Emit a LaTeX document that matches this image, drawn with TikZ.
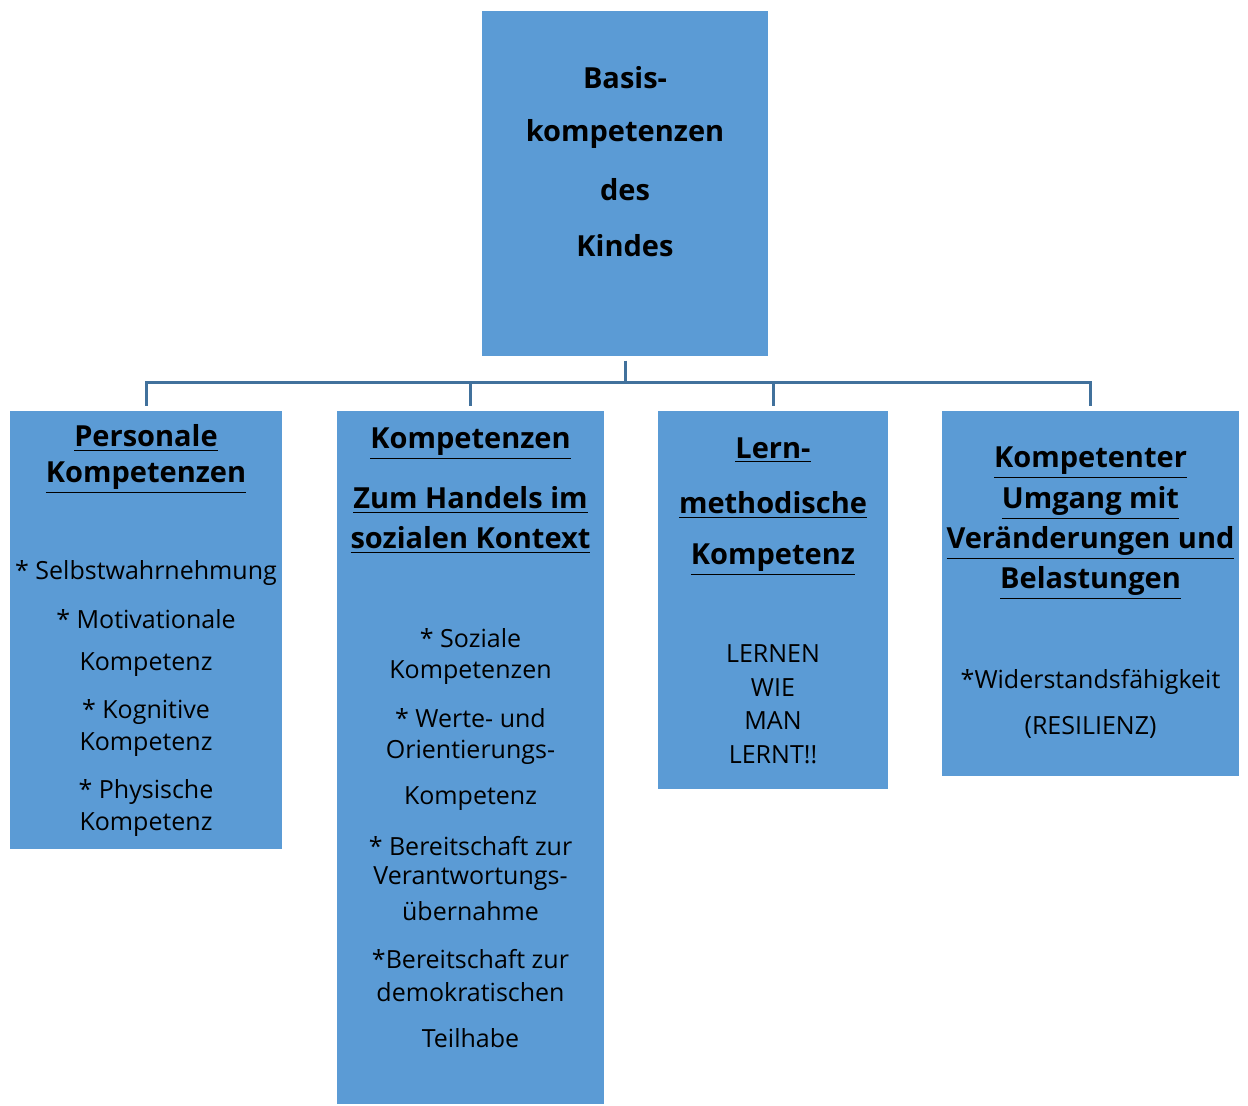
\documentclass[tikz,border=0pt]{standalone}
\usepackage{fontspec}
\setmainfont{Open Sans}
\usepackage{tikz}

\definecolor{boxblue}{HTML}{5B9BD5}
\definecolor{linkblue}{HTML}{41719C}

\begin{document}
\begin{tikzpicture}[x=0.5pt,y=-0.5pt,
	box/.style={draw=white,fill=boxblue,line width=0.6pt,inner sep=0pt},
	head/.style={font=\fontsize{14.5}{16}\selectfont\bfseries},
	item/.style={font=\fontsize{12.5}{14}\selectfont},
	link/.style={draw=linkblue,line width=1.5pt}]
	\useasboundingbox (0,0) rectangle (1248,1106);

	% Boxes start here
	\node (top) at (625,183.5) [box,minimum width=144pt,minimum height=173.5pt] {};
	\node (pers) at (146,630) [box,minimum width=137pt,minimum height=220pt] {};
	\node (sozi) at (470.5,757.5) [box,minimum width=134.5pt,minimum height=347.5pt] {};
	\node (lern) at (773,600) [box,minimum width=116pt,minimum height=190pt] {};
	\node (resi) at (1090.5,593.5) [box,minimum width=149.5pt,minimum height=183.5pt] {};

	% Lines start here
	\coordinate (bus) at (625,383);
	\draw[link,shorten <=1.5pt] (top.south) -- (bus);
	\draw[link,shorten >=1.5pt] (bus) -| (pers.north);
	\draw[link,shorten >=1.5pt] (bus) -| (sozi.north);
	\draw[link,shorten >=1.5pt] (bus) -| (lern.north);
	\draw[link,shorten >=1.5pt] (bus) -| (resi.north);

	% Texts start here
	\foreach \y/\t in {78/Basis-,134/kompetenzen,190/des,246/Kindes}
		\node (top-\y) at (625,\y) [head] {\t};

	\foreach \y/\t in {438/Personale,478/Kompetenzen}
		\node (pers-\y) at (146,\y) [head] {\underline{\t}};
	\foreach \y/\t in {573/{* Selbstwahrnehmung},619/{* Motivationale},665/Kompetenz,
		712/{* Kognitive},745/Kompetenz,792/{* Physische},825/Kompetenz}
		\node (pers-\y) at (146,\y) [item] {\t};

	\foreach \y/\t in {444/Kompetenzen,500/{Zum Handels im},540/{sozialen Kontext}}
		\node (sozi-\y) at (470.5,\y) [head] {\underline{\t}};
	\foreach \y/\t in {638/{* Soziale},673/Kompetenzen,718/{* Werte- und},752/Orientierungs-,
		799/Kompetenz,846/{* Bereitschaft zur},879/Verantwortungs-,911/übernahme,
		959/{*Bereitschaft zur},992/demokratischen,1038/Teilhabe}
		\node (sozi-\y) at (470.5,\y) [item] {\t};

	\foreach \y/\t in {450/Lern-,505/methodische,560/Kompetenz}
		\node (lern-\y) at (773,\y) [head] {\underline{\t}};
	\foreach \y/\t in {654/LERNEN,688/WIE,721/MAN,755/LERNT!!}
		\node (lern-\y) at (773,\y) [item] {\t};

	\foreach \y/\t in {463/Kompetenter,503/{Umgang mit},543/{Veränderungen und},583/Belastungen}
		\node (resi-\y) at (1090.5,\y) [head] {\underline{\t}};
	\foreach \y/\t in {682/*Widerstandsfähigkeit,727/(RESILIENZ)}
		\node (resi-\y) at (1090.5,\y) [item] {\t};

\end{tikzpicture}
\end{document}
